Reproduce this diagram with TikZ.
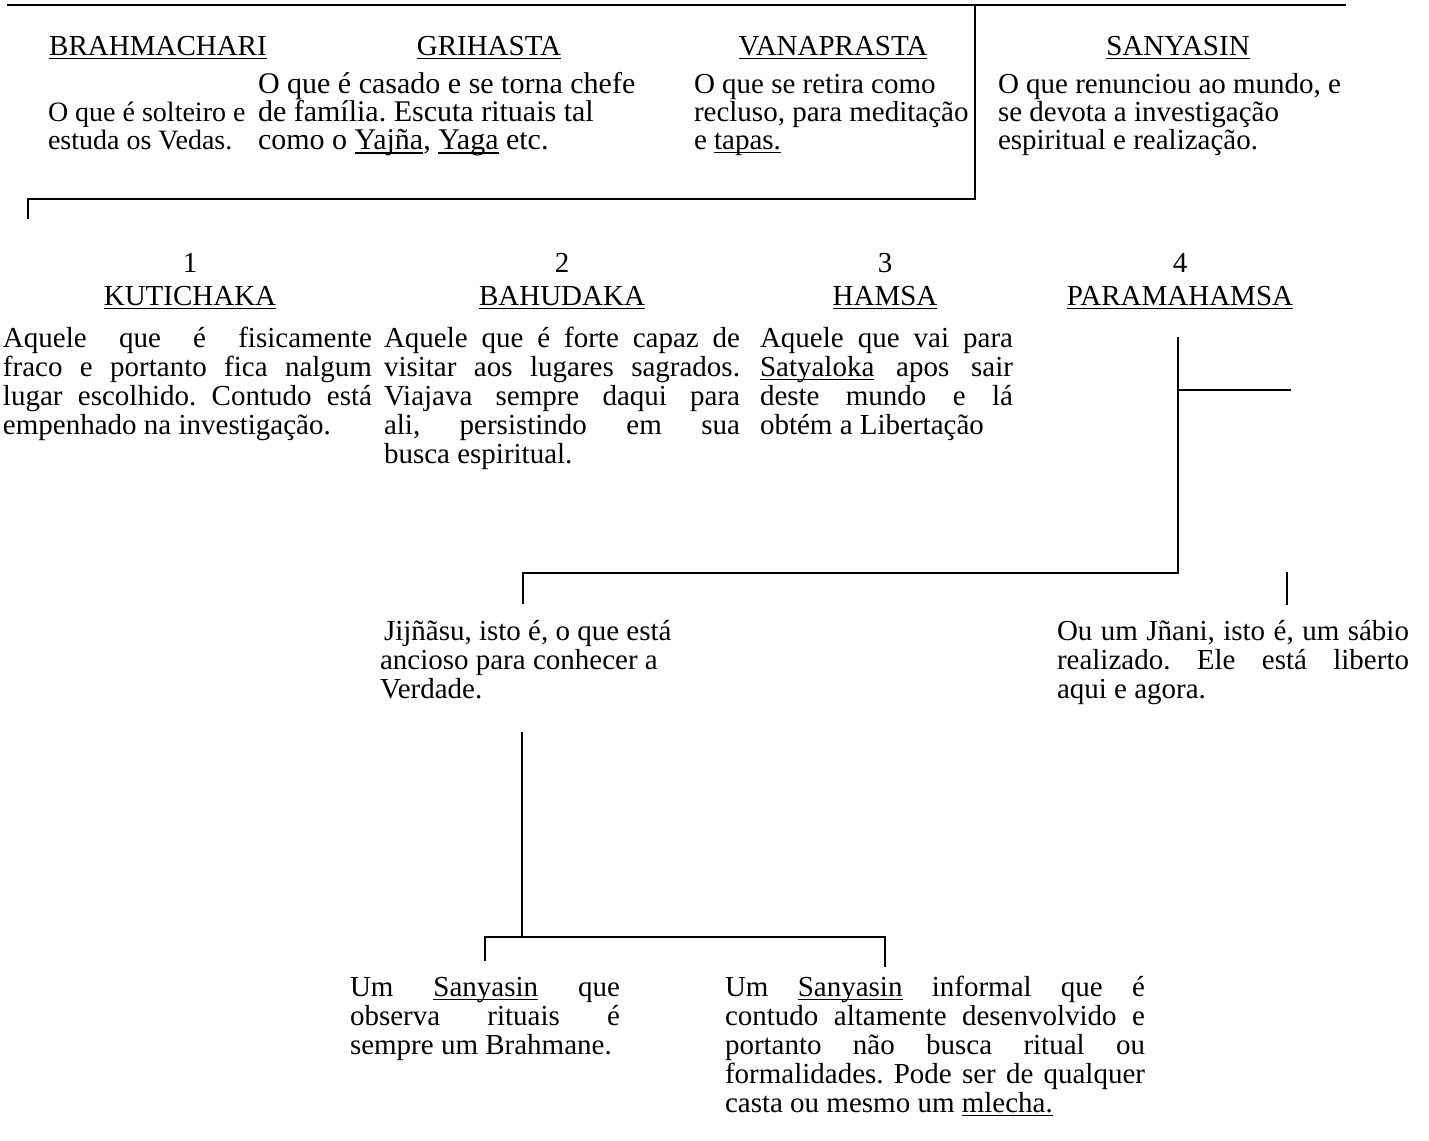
\documentclass[tikz,border=0pt]{standalone}
\usepackage{fontspec}
\setmainfont{Liberation Serif}
\frenchspacing
\newcommand\ulx[1]{\setbox0\hbox{#1}\rlap{\rule[-2.2pt]{\wd0}{0.75pt}}\box0\relax}
\newcommand\fl{\rule{0pt}{10.5pt}}
\newcommand\jl[2]{\makebox[#1][s]{#2}}
\begin{document}
\begin{tikzpicture}[x=0.5pt,y=-0.5pt,
  every node/.style={inner sep=0pt,outer sep=0pt},
  para/.style={anchor=north west,align=left,font=\fontsize{14.5pt}{#1}\selectfont},
  para/.default=14pt,
  bigpara/.style={anchor=north west,align=left,font=\fontsize{15pt}{14pt}\selectfont},
  smallpara/.style={anchor=north west,align=left,font=\fontsize{14pt}{14pt}\selectfont},
  head/.style={anchor=base,font=\fontsize{14.5pt}{14pt}\selectfont},
  conn/.style={line width=1.1pt,line cap=rect}]
\fill[white] (0,0) rectangle (1429,1140);
\useasboundingbox (0,0) rectangle (1429,1140);

% ---------- top row ----------
\node[head] (hbr) at (158,55) {\ulx{BRAHMACHARI}};
\node[head] (hgr) at (489,55) {\ulx{GRIHASTA}};
\node[head] (hva) at (833,55) {\ulx{VANAPRASTA}};
\node[head] (hsa) at (1178,55) {\ulx{SANYASIN}};

\node[smallpara] (tbr) at (48,100) {\fl O que é solteiro e\\estuda os Vedas.};
\node[bigpara] (tgr) at (258,72) {\fl O que é casado e se torna chefe\\de família. Escuta rituais tal\\como o \ulx{Yajña}, \ulx{Yaga} etc.};
\node[para] (tva) at (694,72) {\fl O que se retira como\\recluso, para meditação\\e \ulx{tapas.}};
\node[para] (tsa) at (998,72) {\fl O que renunciou ao mundo, e\\se devota a investigação\\espiritual e realização.};

\coordinate (tl0) at (8,5);
\coordinate (tl1) at (1345,5);
\coordinate (vt) at (975,5);
\coordinate (vb) at (975,199);
\coordinate (bl) at (28,199);
\coordinate (blt) at (28,218);
\draw[conn] (tl0) -- (tl1);
\draw[conn] (vt) -- (vb) -- (bl) -- (blt);

% ---------- second row ----------
\node[head] (n1) at (190,272) {1};
\node[head] (n2) at (562,272) {2};
\node[head] (n3) at (885,272) {3};
\node[head] (n4) at (1180,272) {4};
\node[head] (hku) at (190,305) {\ulx{KUTICHAKA}};
\node[head] (hba) at (562,305) {\ulx{BAHUDAKA}};
\node[head] (hha) at (885,305) {\ulx{HAMSA}};
\node[head] (hpa) at (1180,305) {\ulx{PARAMAHAMSA}};

\node[para=14.5pt] (tku) at (3,326) {\fl\jl{184.5pt}{Aquele que é fisicamente}\\\jl{184.5pt}{fraco e portanto fica nalgum}\\\jl{184.5pt}{lugar escolhido. Contudo está}\\empenhado na investigação.};
\node[para=14.5pt] (tba) at (384,326) {\fl\jl{178pt}{Aquele que é forte capaz de}\\\jl{178pt}{visitar aos lugares sagrados.}\\\jl{178pt}{Viajava sempre daqui para}\\\jl{178pt}{ali, persistindo em sua}\\busca espiritual.};
\node[para=14.5pt] (tha) at (760,326) {\fl\jl{126.5pt}{Aquele que vai para}\\\jl{126.5pt}{\ulx{Satyaloka} apos sair}\\\jl{126.5pt}{deste mundo e lá}\\obtém a Libertação};

\coordinate (pt) at (1178,338);
\coordinate (pm) at (1178,390);
\coordinate (pr) at (1290,390);
\coordinate (pb) at (1178,573);
\coordinate (jt) at (523,573);
\coordinate (jb) at (523,603);
\coordinate (nt) at (1287,573);
\coordinate (nb) at (1287,604);
\draw[conn] (pt) -- (pb) -- (jt) -- (jb);
\draw[conn] (pm) -- (pr);
\draw[conn] (nt) -- (nb);

% ---------- third row ----------
\node[para=14.5pt] (tji) at (380,619) {\fl\hspace*{2pt}Jijñãsu, isto é, o que está\\ancioso para conhecer a\\Verdade.};
\node[para=14.5pt] (tjn) at (1057,619) {\fl\jl{176pt}{Ou um Jñani, isto é, um sábio}\\\jl{176pt}{realizado. Ele está liberto}\\aqui e agora.};

\coordinate (st) at (522,733);
\coordinate (sb) at (522,937);
\coordinate (sl) at (485,937);
\coordinate (sr) at (885,937);
\coordinate (slb) at (485,960);
\coordinate (srb) at (885,966);
\draw[conn] (st) -- (sb);
\draw[conn] (slb) -- (sl) -- (sr) -- (srb);

% ---------- bottom row ----------
\node[para=14.5pt] (tbl) at (350,975) {\fl\jl{135pt}{Um \ulx{Sanyasin} que}\\\jl{135pt}{observa rituais é}\\sempre um Brahmane.};
\node[para=14.5pt] (tbrr) at (725,975) {\fl\jl{210pt}{Um \ulx{Sanyasin} informal que é}\\\jl{210pt}{contudo altamente desenvolvido e}\\\jl{210pt}{portanto não busca ritual ou}\\\jl{210pt}{formalidades. Pode ser de qualquer}\\casta ou mesmo um \ulx{mlecha.}};
\end{tikzpicture}
\end{document}
